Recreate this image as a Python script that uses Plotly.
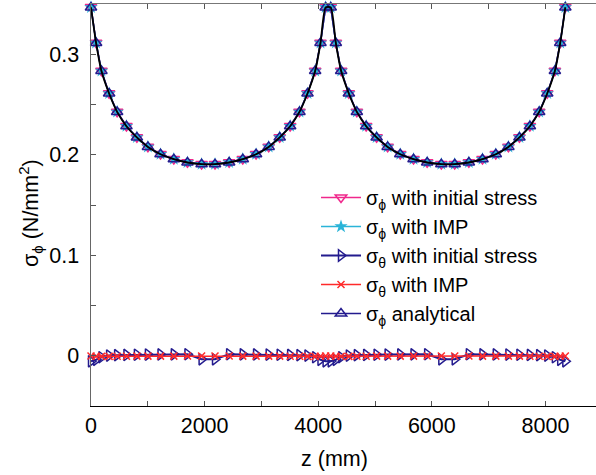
import plotly.graph_objects as go

# z positions (mm)
z_mm = [0, 90, 184, 319, 460, 624, 808, 1002, 1224, 1458, 1698, 1947,
        2183, 2432, 2672, 2906, 3128, 3322, 3506, 3670, 3811, 3946, 4040, 4130,
        4220, 4310, 4404, 4539, 4680, 4844, 5028, 5222, 5444, 5678, 5918, 6167,
        6403, 6652, 6892, 7126, 7348, 7542, 7726, 7890, 8031, 8166, 8260, 8350]

sphi_init = [0.347, 0.3115, 0.2836, 0.2611, 0.2428, 0.2286, 0.2174, 0.2080, 0.2007, 0.1958, 0.1925, 0.1908,
             0.1908, 0.1925, 0.1958, 0.2007, 0.2080, 0.2174, 0.2286, 0.2428, 0.2611, 0.2836, 0.3115, 0.347,
             0.347, 0.3115, 0.2836, 0.2611, 0.2428, 0.2286, 0.2174, 0.2080, 0.2007, 0.1958, 0.1925, 0.1908,
             0.1908, 0.1925, 0.1958, 0.2007, 0.2080, 0.2174, 0.2286, 0.2428, 0.2611, 0.2836, 0.3115, 0.347]

sphi_imp = [0.3468, 0.3113, 0.2834, 0.2610, 0.2427, 0.2285, 0.2173, 0.2079, 0.2006, 0.1957, 0.1924, 0.1907,
            0.1907, 0.1924, 0.1957, 0.2006, 0.2079, 0.2173, 0.2285, 0.2427, 0.2610, 0.2834, 0.3113, 0.3468,
            0.3468, 0.3113, 0.2834, 0.2610, 0.2427, 0.2285, 0.2173, 0.2079, 0.2006, 0.1957, 0.1924, 0.1907,
            0.1907, 0.1924, 0.1957, 0.2006, 0.2079, 0.2173, 0.2285, 0.2427, 0.2610, 0.2834, 0.3113, 0.3468]

sphi_analytical = [0.3466, 0.3112, 0.2833, 0.2609, 0.2426, 0.2284, 0.2172, 0.2078, 0.2005, 0.1956, 0.1923, 0.1906,
                   0.1906, 0.1923, 0.1956, 0.2005, 0.2078, 0.2172, 0.2284, 0.2426, 0.2609, 0.2833, 0.3112, 0.3466,
                   0.3466, 0.3112, 0.2833, 0.2609, 0.2426, 0.2284, 0.2172, 0.2078, 0.2005, 0.1956, 0.1923, 0.1906,
                   0.1906, 0.1923, 0.1956, 0.2005, 0.2078, 0.2172, 0.2284, 0.2426, 0.2609, 0.2833, 0.3112, 0.3466]

stheta_init = [-0.0055, -0.004, -0.0015, 0.0002, 0.0006, 0.0008, 0.001, 0.0012, 0.0013, 0.0014, 0.0015, -0.0035,
               -0.0035, 0.0015, 0.0014, 0.0013, 0.0012, 0.001, 0.0008, 0.0006, 0.0002, -0.0015, -0.004, -0.0055,
               -0.0055, -0.004, -0.0015, 0.0002, 0.0006, 0.0008, 0.001, 0.0012, 0.0013, 0.0014, 0.0015, -0.0035,
               -0.0035, 0.0015, 0.0014, 0.0013, 0.0012, 0.001, 0.0008, 0.0006, 0.0002, -0.0015, -0.004, -0.0055]

stheta_imp = [-0.0003, -0.0005, -0.0006, -0.0006, -0.0005, -0.0005, -0.0004, -0.0004, -0.0004, -0.0004, -0.0003, -0.0003,
              -0.0003, -0.0003, -0.0004, -0.0004, -0.0004, -0.0004, -0.0005, -0.0005, -0.0006, -0.0006, -0.0005, -0.0003,
              -0.0003, -0.0005, -0.0006, -0.0006, -0.0005, -0.0005, -0.0004, -0.0004, -0.0004, -0.0004, -0.0003, -0.0003,
              -0.0003, -0.0003, -0.0004, -0.0004, -0.0004, -0.0004, -0.0005, -0.0005, -0.0006, -0.0006, -0.0005, -0.0003]

x_ticks = [0, 2000, 4000, 6000, 8000]
y_ticks = [0, 0.1, 0.2, 0.3]
y_tick_labels = ["0", "0.1", "0.2", "0.3"]

MAGENTA = "#F0288C"
CYAN = "#2AB4D8"
NAVY = "#231B8E"
RED = "#FF2A2A"

FONT = "Liberation Sans, Arial, Helvetica, sans-serif"

# plot area in pixels
W, H = 596, 475
ML, MR, MT, MB = 91, 0, 4, 69
PW = W - ML - MR
PH = H - MT - MB

fig = go.Figure()

fig.add_trace(go.Scatter(
    x=z_mm, y=sphi_init, mode="lines+markers",
    name="σ<sub>ϕ</sub> with initial stress", cliponaxis=False,
    line=dict(color=MAGENTA, width=1.5),
    marker=dict(symbol="triangle-down-open", size=10, color=MAGENTA, line=dict(width=1.5)),
))
fig.add_trace(go.Scatter(
    x=z_mm, y=sphi_imp, mode="lines+markers",
    name="σ<sub>ϕ</sub> with IMP", cliponaxis=False,
    line=dict(color=CYAN, width=1.5),
    marker=dict(symbol="star", size=10, color=CYAN, line=dict(width=0)),
))
fig.add_trace(go.Scatter(
    x=z_mm, y=stheta_init, mode="lines+markers",
    name="σ<sub>θ</sub> with initial stress", cliponaxis=False,
    line=dict(color=NAVY, width=2),
    marker=dict(symbol="triangle-right-open", size=10, color=NAVY, line=dict(width=1.5)),
))
fig.add_trace(go.Scatter(
    x=z_mm, y=stheta_imp, mode="lines+markers",
    name="σ<sub>θ</sub> with IMP", cliponaxis=False,
    line=dict(color=RED, width=1.5),
    marker=dict(symbol="x-thin-open", size=7, color=RED, line=dict(width=1.5, color=RED)),
))
fig.add_trace(go.Scatter(
    x=z_mm, y=sphi_analytical, mode="lines+markers",
    name="σ<sub>ϕ</sub> analytical", cliponaxis=False,
    line=dict(color=NAVY, width=1.5),
    marker=dict(symbol="triangle-up-open", size=10, color=NAVY, line=dict(width=1.5)),
))
fig.add_trace(go.Scatter(
    x=z_mm, y=sphi_analytical, mode="lines", showlegend=False,
    line=dict(color="black", width=1.8, shape="spline", smoothing=0.6),
    hoverinfo="skip",
))
# invisible trace on top axis so it renders
fig.add_trace(go.Scatter(x=[0], y=[None], xaxis="x2", showlegend=False, hoverinfo="skip"))


def px_to_paper(px, py):
    return (px - ML) / PW, (H - MB - py) / PH


lx, ly = px_to_paper(316, 178)
tx, ty = px_to_paper(334, 459)
yx, yy = px_to_paper(30, 213)

fig.update_layout(
    template="none",
    width=W, height=H,
    margin=dict(l=ML, r=MR, t=MT, b=MB, pad=0, autoexpand=False),
    paper_bgcolor="white", plot_bgcolor="white",
    font=dict(family=FONT, size=21, color="black"),
    showlegend=True,
    legend=dict(
        x=lx, y=ly, xanchor="left", yanchor="top",
        bgcolor="rgba(0,0,0,0)", borderwidth=0,
        font=dict(size=20), tracegroupgap=0, itemwidth=40,
    ),
    xaxis=dict(
        range=[0, 8890], tickvals=x_ticks, ticks="inside", ticklen=5,
        tickcolor="#555", showline=True, linecolor="black", linewidth=1,
        showgrid=False, zeroline=False, automargin=False,
        minor=dict(dtick=1000, tick0=0, ticks="inside", ticklen=5, tickcolor="#555", showgrid=False),
        tickfont=dict(size=21.5),
    ),
    xaxis2=dict(
        range=[0, 8890], overlaying="x", side="top", matches="x",
        showticklabels=False, ticks="inside", ticklen=5, tickcolor="#555",
        tickvals=[1000, 2000, 3000, 4000, 5000, 6000, 7000, 8000],
        showline=True, linecolor="#777", linewidth=1, showgrid=False, zeroline=False,
        automargin=False,
    ),
    yaxis=dict(
        range=[-0.05, 0.35], tickvals=y_ticks, ticktext=y_tick_labels,
        ticks="inside", ticklen=5, tickcolor="#555",
        showline=True, linecolor="#666", linewidth=1.5,
        showgrid=False, zeroline=False, automargin=False,
        ticklabelstandoff=6,
        minor=dict(dtick=0.05, tick0=0, ticks="inside", ticklen=5, tickcolor="#555", showgrid=False),
        tickfont=dict(size=21.5),
    ),
    annotations=[
        dict(text="z (mm)", x=tx, y=ty, xref="paper", yref="paper",
             showarrow=False, font=dict(size=21.5), xanchor="center", yanchor="middle"),
        dict(text="σ<sub>ϕ</sub> (N/mm<sup>2</sup>)", x=yx, y=yy, xref="paper", yref="paper",
             showarrow=False, font=dict(size=21.5), textangle=-90,
             xanchor="center", yanchor="middle"),
    ],
)

fig.write_html(
    "out.html",
    config={"displayModeBar": False, "staticPlot": True},
    post_script="document.body.style.margin='0';document.body.style.overflow='hidden';",
)
